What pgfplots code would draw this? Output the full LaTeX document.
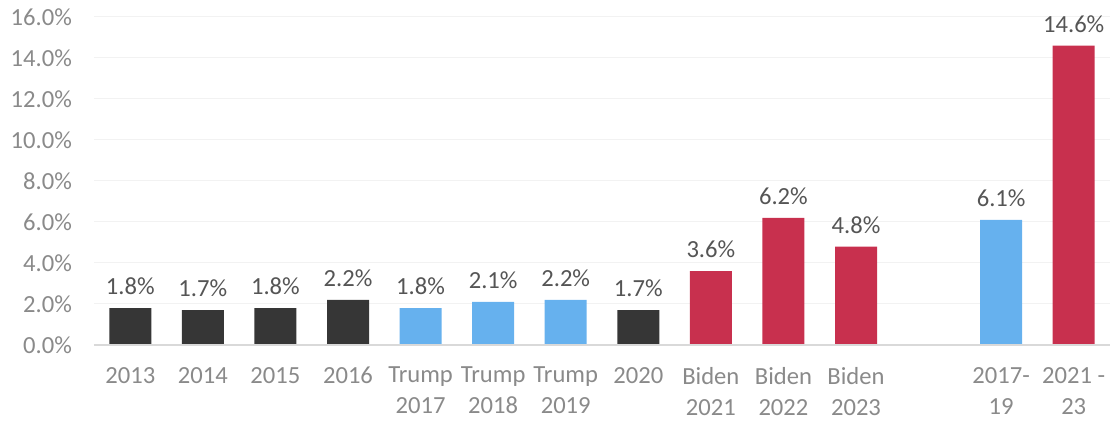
\documentclass[border=0pt]{standalone}
\usepackage{pgfplots}
\pgfplotsset{compat=1.18}
\usepackage{fontspec}
\setmainfont{Carlito}
\definecolor{cdark}{HTML}{363636}
\definecolor{cblue}{HTML}{66B1EE}
\definecolor{cred}{HTML}{C8304E}
\definecolor{ctick}{HTML}{8A8A8A}
\definecolor{clab}{HTML}{555555}
\begin{document}
\begin{tikzpicture}
\path[use as bounding box] (-47pt,-38.5pt) rectangle (512pt,172.5pt);
\begin{axis}[
  at={(0,0)}, anchor=south west,
  scale only axis, width=508pt, height=164pt,
  xmin=-0.5, xmax=13.5, ymin=0, ymax=16,
  ybar, bar width=21pt,
  axis line style={draw=none},
  axis x line*=bottom,
  xtick={0,1,2,3,4,5,6,7,8,9,10,12,13},
  xticklabels={2013,2014,2015,2016,Trump\\2017,Trump\\2018,Trump\\2019,2020,Biden\\2021,Biden\\2022,Biden\\2023,2017-\\19,2021 -\\23},
  xticklabel style={align=center, font=\fontsize{12.3}{15.5}\selectfont, text=ctick, yshift=-7.5pt},
  ytick={0,2,...,16},
  yticklabel={\pgfmathprintnumber[fixed,fixed zerofill,precision=1]{\tick}\%},
  yticklabel style={font=\fontsize{12.3}{14}\selectfont, text=ctick, xshift=-7.5pt},
  /pgf/number format/assume math mode=true,
  major tick length=0pt,
  ymajorgrids, grid style={gray!10, line width=0.5pt},
  point meta=y,
  nodes near coords={\pgfmathprintnumber[fixed,fixed zerofill,precision=1]{\pgfplotspointmeta}\%},
  every node near coord/.append style={font=\fontsize{12.3}{14}\selectfont, text=clab, yshift=3pt},
  clip=false,
]
\addplot[draw=none, fill=cdark, bar shift=0pt] coordinates {(0,1.8) (1,1.7) (2,1.8) (3,2.2) (7,1.7)};
\addplot[draw=none, fill=cblue, bar shift=0pt] coordinates {(4,1.8) (5,2.1) (6,2.2) (12,6.1)};
\addplot[draw=none, fill=cred, bar shift=0pt] coordinates {(8,3.6) (9,6.2) (10,4.8) (13,14.6)};
\draw[gray!30, line width=0.8pt] (axis cs:-0.5,0) -- (axis cs:13.5,0);
\end{axis}
\end{tikzpicture}
\end{document}
